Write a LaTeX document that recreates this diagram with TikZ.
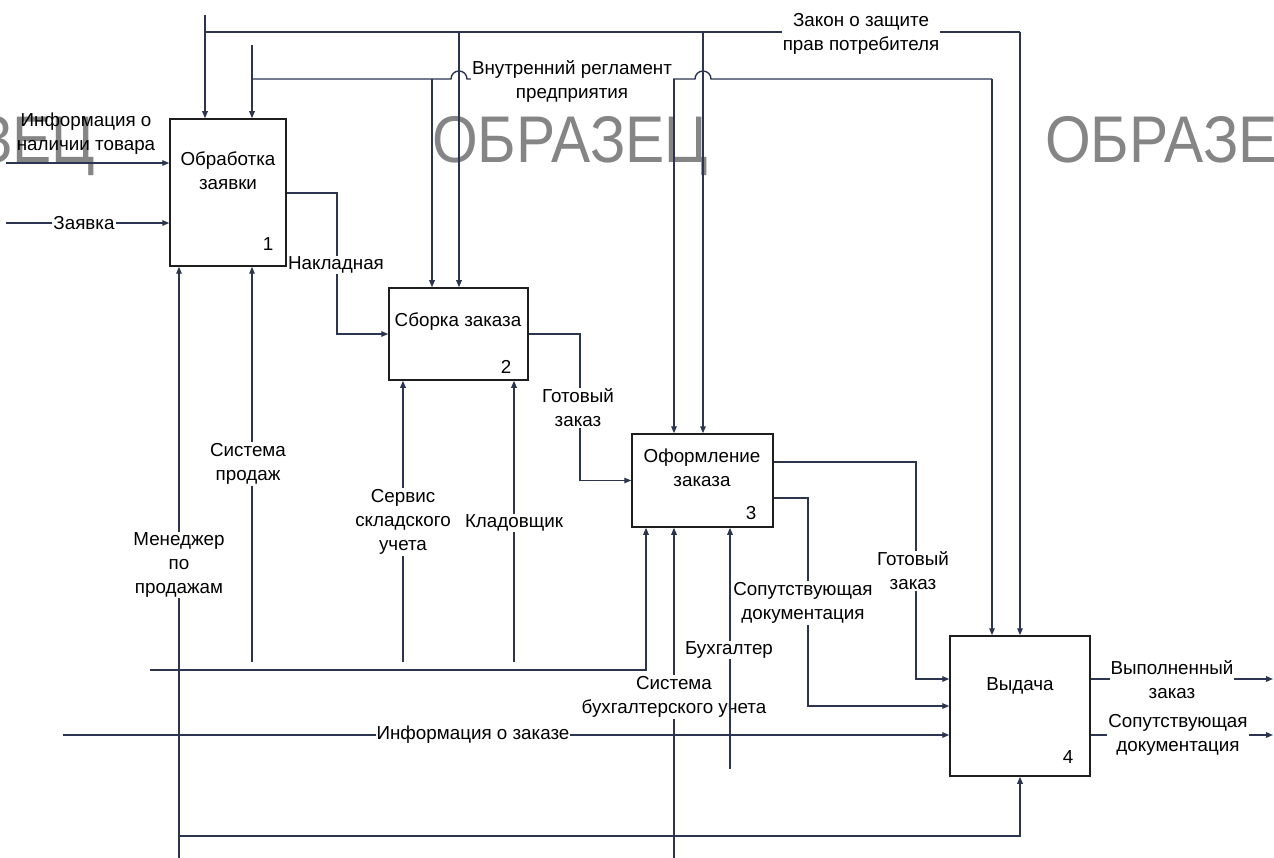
\documentclass[tikz,border=0pt]{standalone}
\usepackage{fontspec}
\usepackage{graphicx}
\setmainfont{Liberation Sans}
\usetikzlibrary{arrows.meta,calc}
\definecolor{linec}{HTML}{2B3550}
\definecolor{boxc}{HTML}{1E1E1E}
\definecolor{wmgray}{HTML}{858585}
\newcommand\lblfont{\fontsize{18.8}{24}\selectfont}
\newcommand\wmfont{\fontsize{66}{66}\selectfont}

\begin{document}
\begin{tikzpicture}[x=1pt,y=-1pt,
  flow/.style={draw=linec, line width=1.4pt},
  arr/.style={flow, -{Triangle[length=7pt,width=5.5pt]}},
  procbox/.style={draw=boxc, line width=1.5pt, fill=white, rectangle, inner sep=0pt},
  lbl/.style={font=\lblfont, align=center, inner sep=1pt, text=black},
  cut/.style={lbl, fill=white},
  wmark/.style={font=\wmfont, text=wmgray, inner sep=0pt}]
\useasboundingbox (0,0) rectangle (1274,858);
\fill[white] (0,0) rectangle (1274,858);

% grey background stamp
\foreach \wx/\nm in {-181/wmA,432/wmB,1045/wmC}
  \node[wmark, anchor=base west] (\nm) at (\wx,163) {\scalebox{0.89}[1]{ОБРАЗЕЦ}};

% activity boxes
\node[procbox, minimum width=116pt, minimum height=147pt] (b1) at (228,192.5) {};
\node[procbox, minimum width=139pt, minimum height=92pt] (b2) at (458.5,334) {};
\node[procbox, minimum width=141pt, minimum height=93pt] (b3) at (702.5,480.5) {};
\node[procbox, minimum width=140pt, minimum height=140pt] (b4) at (1020,706) {};

\node[lbl] (t1) at (228,171) {Обработка\\заявки};
\node[lbl] (n1) at (268,244) {1};
\node[lbl] (t2) at (458,322) {Сборка заказа};
\node[lbl] (n2) at (506,367) {2};
\node[lbl] (t3) at (702,468) {Оформление\\заказа};
\node[lbl] (n3) at (751,513) {3};
\node[lbl] (t4) at (1020,686) {Выдача};
\node[lbl] (n4) at (1068,757) {4};

% controls: consumer protection law
\coordinate (zk) at (205,15);
\coordinate (zkL) at (205,32);
\coordinate (zk2) at (459,32);
\coordinate (zk3) at (703,32);
\coordinate (zkR) at (1020,32);
\draw[arr] (zk) -- (zk |- b1.north);
\draw[flow] (zkL) -- (zkR);
\draw[arr] (zkR) -- (zkR |- b4.north);
\draw[arr] (zk2) -- (zk2 |- b2.north);
\draw[arr] (zk3) -- (zk3 |- b3.north);

% controls: internal regulations (hops over the law branches)
\coordinate (vr) at (252,45);
\coordinate (vrL) at (252,79);
\coordinate (vr2) at (432,79);
\coordinate (vr3) at (674,79);
\coordinate (vrR) at (992,79);
\draw[arr] (vr) -- (vr |- b1.north);
\draw[flow] (vrL) -- ($(zk2 |- vrL)+(-8,0)$) arc[start angle=180,end angle=360,radius=8]
  -- ($(zk3 |- vrL)+(-8,0)$) arc[start angle=180,end angle=360,radius=8] -- (vrR);
\draw[arr] (vrR) -- (vrR |- b4.north);
\draw[arr] (vr2) -- (vr2 |- b2.north);
\draw[arr] (vr3) -- (vr3 |- b3.north);

% inputs
\coordinate (inA) at (6,163);
\coordinate (inB) at (6,223);
\draw[arr] (inA) -- (inA -| b1.west);
\draw[arr] (inB) -- (inB -| b1.west);
\coordinate (iz) at (63,735);
\draw[arr] (iz) -- (iz -| b4.west);

% outputs between activities
\coordinate (o1) at (337,193);
\draw[arr] (o1 -| b1.east) -- (o1) -- (o1 |- b2.west) -- (b2.west);
\coordinate (o2) at (580,334);
\draw[arr] (b2.east) -- (o2) -- (o2 |- b3.west) -- (b3.west);
\coordinate (o3a) at (916,462);
\coordinate (o3b) at (916,679);
\draw[arr] (o3a -| b3.east) -- (o3a) -- (o3b) -- (o3b -| b4.west);
\coordinate (o3c) at (808,498);
\coordinate (o3d) at (808,706);
\draw[arr] (o3c -| b3.east) -- (o3c) -- (o3d) -- (o3d -| b4.west);
\coordinate (outA) at (1273,679);
\coordinate (outB) at (1273,735);
\draw[arr] (outA -| b4.east) -- (outA);
\draw[arr] (outB -| b4.east) -- (outB);

% mechanisms
\coordinate (mg) at (179,858);
\coordinate (mgB) at (179,836);
\coordinate (mgR) at (1020,836);
\draw[arr] (mg) -- (mg |- b1.south);
\draw[arr] (mgB) -- (mgR) -- (mgR |- b4.south);
\coordinate (sp) at (252,662);
\draw[arr] (sp) -- (sp |- b1.south);
\coordinate (hz) at (150,670);
\coordinate (hzR) at (646,670);
\draw[arr] (hz) -- (hzR) -- (hzR |- b3.south);
\coordinate (ss) at (403,662);
\coordinate (kl) at (514,662);
\draw[arr] (ss) -- (ss |- b2.south);
\draw[arr] (kl) -- (kl |- b2.south);
\coordinate (sb) at (674,858);
\draw[arr] (sb) -- (sb |- b3.south);

% arrow labels
\node[cut] (lZk) at (861,34) {Закон о защите\\прав потребителя};
\node[cut] (lVr) at (572,81) {Внутренний регламент\\предприятия};
\node[lbl] (lInA) at (86,134) {Информация о\\наличии товара};
\node[cut] (lInB) at (84,223) {Заявка};
\node[cut] (lNk) at (336,265) {Накладная};
\node[cut] (lG2) at (578,408) {Готовый\\заказ};
\node[cut] (lMg) at (179,565) {Менеджер\\по\\продажам};
\node[cut] (lSp) at (248,464) {Система\\продаж};
\node[cut] (lSs) at (403,522) {Сервис\\складского\\учета};
\node[cut] (lKl) at (514,523) {Кладовщик};
\node[cut] (lG3) at (913,571) {Готовый\\заказ};
\node[cut, inner xsep=0pt] (lSd) at (803,603) {Сопутствующая\\документация};
\node[cut] (lSb) at (674,697) {Система\\бухгалтерского учета};
\node[cut] (lIz) at (473,735) {Информация о заказе};
\node[cut] (lVp) at (1172,680) {Выполненный\\заказ};
\node[cut] (lSd4) at (1178,735) {Сопутствующая\\документация};

% accountant mechanism runs over the accounting-system label
\coordinate (bh) at (730,769);
\draw[arr] (bh) -- (bh |- b3.south);
\node[cut] (lBh) at (729,650) {Бухгалтер};
\end{tikzpicture}
\end{document}
